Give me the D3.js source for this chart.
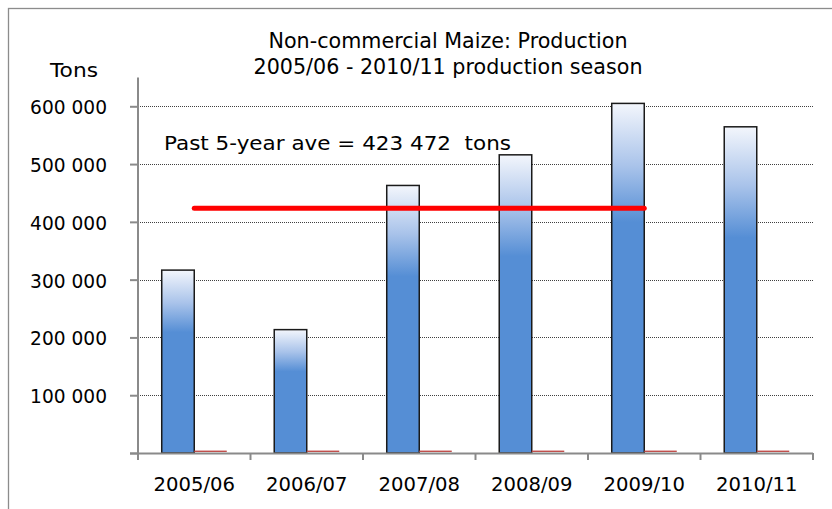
<!DOCTYPE html>
<html>
<head>
<meta charset="utf-8">
<script src="https://cdn.jsdelivr.net/npm/d3@7/dist/d3.min.js"></script>
<style>
  html, body { margin: 0; padding: 0; background: #fff; }
  svg { display: block; }
  text { font-family: "DejaVu Sans", Verdana, sans-serif; fill: #000; white-space: pre; }
</style>
</head>
<body>
<svg id="chart" width="832" height="509"></svg>
<script>
// ---------- data ----------
const categories = ["2005/06", "2006/07", "2007/08", "2008/09", "2009/10", "2010/11"];
const production = [316500, 213500, 463000, 516000, 605000, 564500];
const secondSeries = [4200, 4200, 4200, 4200, 4200, 4200];
const yTickValues = [0, 100000, 200000, 300000, 400000, 500000, 600000];
const average = 423472;
const averageFrom = "2005/06";
const averageTo = "2009/10";
const averageLabel = "Past 5-year ave = 423 472  tons";
const titleLines = ["Non-commercial Maize: Production", "2005/06 - 2010/11 production season"];
const yAxisTitle = "Tons";

// ---------- layout ----------
const W = 832, H = 509;
const plot = { left: 138, right: 813, top: 77.4, bottom: 453 };
const svg = d3.select("#chart");

svg.append("rect").attr("x", 0).attr("y", 0).attr("width", W).attr("height", H).attr("fill", "#fff");
// outer chart border (right/bottom clipped off the picture)
svg.append("rect").attr("x", 8.5).attr("y", 8.5).attr("width", W + 20).attr("height", H + 20)
  .attr("fill", "none").attr("stroke", "#8c8c8c").attr("stroke-width", 1.3);

const x = d3.scaleBand().domain(categories).range([plot.left, plot.right]).paddingInner(0).paddingOuter(0);
const xs = d3.scaleBand().domain(["prod", "second"]).range([0, x.bandwidth()]).paddingInner(0).paddingOuter(0.73);
const y = d3.scaleLinear().domain([0, 650000]).range([plot.bottom, plot.top]);

const fmtLocale = d3.formatLocale({ decimal: ".", thousands: " ", grouping: [3], currency: ["", ""] });
const fmt = fmtLocale.format(",");

// defs: gradient for bars
const defs = svg.append("defs");
const grad = defs.append("linearGradient").attr("id", "barGrad")
  .attr("x1", 0).attr("y1", 0).attr("x2", 0).attr("y2", 1);
grad.append("stop").attr("offset", "0%").attr("stop-color", "#f3f6fc");
grad.append("stop").attr("offset", "18%").attr("stop-color", "#a9c3ea");
grad.append("stop").attr("offset", "34%").attr("stop-color", "#558ed5");
grad.append("stop").attr("offset", "100%").attr("stop-color", "#558ed5");

// gridlines
svg.append("g").selectAll("line").data(yTickValues.filter(d => d > 0)).join("line")
  .attr("x1", plot.left).attr("x2", plot.right)
  .attr("y1", d => Math.round(y(d)) + 0.5).attr("y2", d => Math.round(y(d)) + 0.5)
  .attr("stroke", "#404040").attr("stroke-width", 1).attr("stroke-dasharray", "1,1");

// bars
const groups = svg.append("g").selectAll("g").data(categories).join("g")
  .attr("transform", d => `translate(${x(d)},0)`);
groups.append("rect")
  .attr("x", xs("prod"))
  .attr("y", (d, i) => y(production[i]))
  .attr("width", xs.bandwidth())
  .attr("height", (d, i) => y(0) - y(production[i]))
  .attr("fill", "url(#barGrad)")
  .attr("stroke", "#1a1a1a").attr("stroke-width", 1.5);

// axes
const axisColor = "#8a8a8a";
const yAxis = d3.axisLeft(y).tickValues(yTickValues).tickSize(8).tickPadding(23)
  .tickFormat(d => d === 0 ? "" : fmt(d));
const gy = svg.append("g").attr("transform", `translate(${plot.left},0)`).call(yAxis);
gy.select(".domain").remove();
gy.selectAll(".tick line").attr("stroke", axisColor).attr("stroke-width", 2);
gy.selectAll(".tick text").attr("font-size", 20).attr("font-family", "DejaVu Sans").attr("dy", "0.37em");
svg.append("line").attr("x1", plot.left).attr("x2", plot.left).attr("y1", plot.top).attr("y2", plot.bottom + 7)
  .attr("stroke", axisColor).attr("stroke-width", 2);

const xAxis = d3.axisBottom(x).tickSize(0).tickPadding(0);
const gx = svg.append("g").attr("transform", `translate(0,${plot.bottom})`).call(xAxis);
gx.select(".domain").remove();
gx.selectAll(".tick text").attr("font-size", 20).attr("font-family", "DejaVu Sans").attr("dy", 0).attr("y", 38);
svg.append("line").attr("x1", plot.left - 8).attr("x2", plot.right).attr("y1", plot.bottom + 0.5).attr("y2", plot.bottom + 0.5)
  .attr("stroke", axisColor).attr("stroke-width", 2);
svg.append("g").selectAll("line").data(categories.map(c => x(c)).concat([x.range()[1]])).join("line")
  .attr("x1", d => d).attr("x2", d => d).attr("y1", plot.bottom).attr("y2", plot.bottom + 7)
  .attr("stroke", axisColor).attr("stroke-width", 2);

// second series (tiny red bars sitting on the axis)
groups.append("rect")
  .attr("x", xs("second"))
  .attr("y", (d, i) => y(secondSeries[i]))
  .attr("width", xs.bandwidth())
  .attr("height", (d, i) => y(0) - y(secondSeries[i]) - 1)
  .attr("fill", "#c0504d");

// average line
svg.append("line")
  .attr("x1", x(averageFrom) + x.bandwidth() / 2).attr("x2", x(averageTo) + x.bandwidth() / 2)
  .attr("y1", y(average)).attr("y2", y(average))
  .attr("stroke", "#ff0000").attr("stroke-width", 5).attr("stroke-linecap", "round");

svg.append("text").attr("class", "avg").attr("x", 164).attr("y", 150).attr("font-size", 20)
  .attr("xml:space", "preserve").text(averageLabel);

// titles
svg.append("g").selectAll("text").data(titleLines).join("text")
  .attr("class", "title")
  .attr("x", 448).attr("y", (d, i) => 48 + i * 25.5)
  .attr("text-anchor", "middle").attr("font-size", 21.5).text(d => d);
svg.append("text").attr("class", "ytitle").attr("x", 74).attr("y", 77).attr("text-anchor", "middle")
  .attr("font-size", 19).text(yAxisTitle);

// horizontal compression of text (source chart text is narrower than DejaVu Sans)
function squeeze(sel, k) {
  sel.each(function () {
    const len = this.getComputedTextLength();
    d3.select(this).attr("textLength", len * k).attr("lengthAdjust", "spacingAndGlyphs");
  });
}
squeeze(gy.selectAll(".tick text"), 0.93);
squeeze(gx.selectAll(".tick text"), 0.98);
function fitTo(sel, width) {
  const len = sel.node().getComputedTextLength();
  squeeze(sel, width / len);
}
fitTo(svg.select("text.avg"), 347);
const t = svg.selectAll("text.title");
const k0 = 359 / t.nodes()[0].getComputedTextLength();
squeeze(t, k0);
fitTo(svg.select("text.ytitle"), 48);
</script>
</body>
</html>
